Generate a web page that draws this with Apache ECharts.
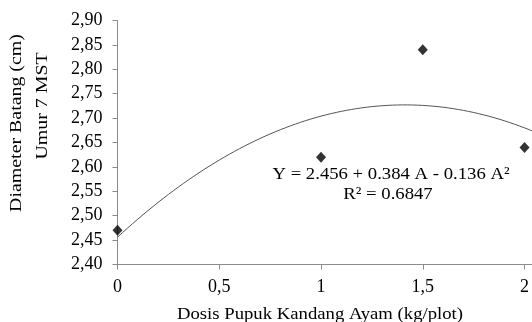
<!DOCTYPE html>
<html>
<head>
<meta charset="utf-8">
<script src="https://cdn.jsdelivr.net/npm/echarts@6/dist/echarts.min.js"></script>
<style>
  html, body { margin: 0; padding: 0; background: #fff; }
  #chart { width: 532px; height: 322px; }
</style>
</head>
<body>
<div id="chart"></div>
<script>
// Observed stem diameter per dose of chicken manure
var doses = [0, 1, 1.5, 2];
var diameters = [2.47, 2.62, 2.84, 2.64];

// Quadratic fit Y = a + bA + cA^2
var trendCoef = [2.456, 0.384, -0.136];
var equationText = 'Y = 2.456 + 0.384 A - 0.136 A\u00B2';
var r2Text = 'R\u00B2 = 0.6847';

var xTitle = 'Dosis Pupuk Kandang Ayam (kg/plot)';
var yTitleLines = ['Diameter Batang (cm)', 'Umur 7 MST'];

var xMin = 0, xMax = 2.05, xStep = 0.5;
var yMin = 2.4, yMax = 2.9, yStep = 0.05;

// Sample the fitted curve across the visible x range
var trend = [];
for (var i = 0; i <= 82; i++) {
  var a = i * 0.025;
  trend.push([a, trendCoef[0] + trendCoef[1] * a + trendCoef[2] * a * a]);
}

var serif = 'Liberation Serif, Times New Roman, serif';
var ink = '#000';
var chart = echarts.init(document.getElementById('chart'));

function label(text, x, y, opts) {
  opts = opts || {};
  return {
    type: 'text', x: x, y: y,
    rotation: opts.rotation || 0,
    scaleX: opts.scaleX || 1.1, scaleY: opts.scaleY || 1,
    style: { text: text, font: '17px ' + serif, fill: ink, align: 'center', verticalAlign: 'middle' }
  };
}

chart.setOption({
  animation: false,
  backgroundColor: '#fff',
  grid: { left: 117.5, top: 20.5, right: -2.7, bottom: 57.5, containLabel: false, outerBoundsMode: 'none' },
  xAxis: {
    type: 'value', min: xMin, max: xMax, interval: xStep,
    axisLine: { lineStyle: { color: '#8c8c8c', width: 1 } },
    axisTick: { show: true, length: 5, lineStyle: { color: '#8c8c8c' } },
    splitLine: { show: false },
    axisLabel: {
      margin: 14, color: ink, fontFamily: serif, fontSize: 18,
      formatter: function (v) {
        if (Math.abs(v / xStep - Math.round(v / xStep)) > 1e-6) return '';
        return String(Math.round(v * 10) / 10).replace('.', ',');
      }
    }
  },
  yAxis: {
    type: 'value', min: yMin, max: yMax, interval: yStep,
    axisLine: { show: true, lineStyle: { color: '#8c8c8c', width: 1 } },
    axisTick: { show: true, length: 5, lineStyle: { color: '#8c8c8c' } },
    splitLine: { show: false },
    axisLabel: {
      margin: 15, color: ink, fontFamily: serif, fontSize: 18,
      formatter: function (v) { return v.toFixed(2).replace('.', ','); }
    }
  },
  series: [
    {
      type: 'line', data: trend, showSymbol: false, smooth: false,
      lineStyle: { color: '#555', width: 1 }, silent: true, z: 2
    },
    {
      type: 'scatter', symbol: 'diamond', symbolSize: [10, 11],
      data: doses.map(function (d, i) { return [d, diameters[i]]; }),
      itemStyle: { color: '#000' }, z: 3
    }
  ],
  graphic: [
    label(xTitle, 320, 315),
    label(yTitleLines[0], 17, 123, { rotation: Math.PI / 2, scaleX: 1.17 }),
    label(yTitleLines[1], 43, 106, { rotation: Math.PI / 2, scaleX: 1.17 }),
    label(equationText, 391, 175),
    label(r2Text, 388, 195)
  ]
});
</script>
</body>
</html>
